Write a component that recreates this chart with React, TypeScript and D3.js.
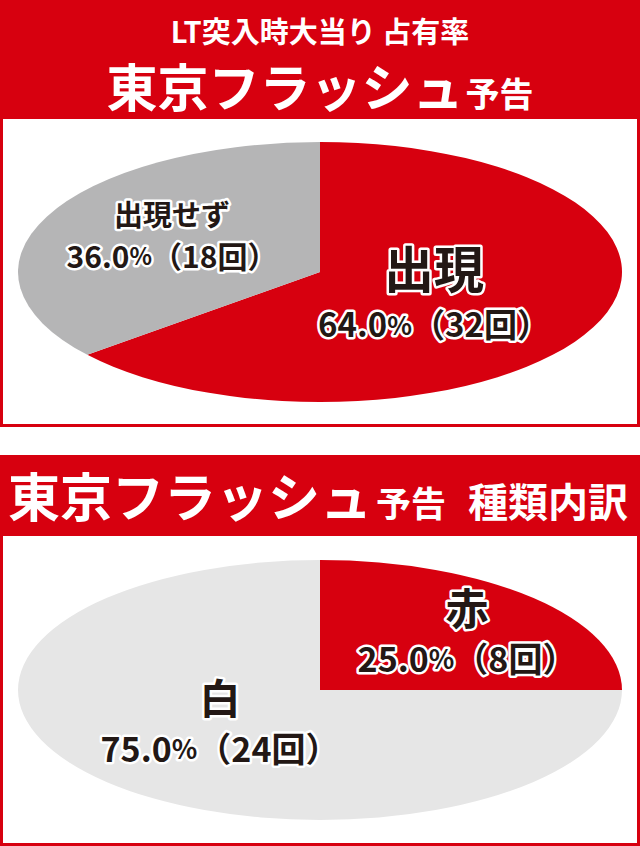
import React from 'react';
import * as d3 from 'd3';

// chart 1: LT突入時大当り占有率
const occCategories = ['出現', '出現せず'];
const occPercents = [64.0, 36.0];
const occCounts = [32, 18];

// chart 2: 種類内訳
const typeCategories = ['赤', '白'];
const typePercents = [25.0, 75.0];
const typeCounts = [8, 24];

const W = 640;
const H = 846;
const RED = '#d7000f';
const INK = '#231815';
const FONT = '"Noto Sans CJK JP", "Noto Sans", sans-serif';

interface LabelSpec {
  x: number;
  y1: number;
  y2: number;
  f1: number;
  f2: number;
}

interface PieProps {
  cx: number;
  cy: number;
  rx: number;
  ry: number;
  categories: string[];
  percents: number[];
  counts: number[];
  colors: string[];
  labels: LabelSpec[];
}

const Label: React.FC<{ spec: LabelSpec; name: string; pct: number; count: number }> = ({ spec, name, pct, count }) => {
  const common = {
    fontFamily: FONT,
    fontWeight: 700,
    fill: INK,
    stroke: '#fff',
    strokeWidth: 5,
    strokeLinejoin: 'round' as const,
    paintOrder: 'stroke',
    textAnchor: 'middle' as const,
    dominantBaseline: 'central' as const,
  };
  return (
    <g>
      <text x={spec.x} y={spec.y1} fontSize={spec.f1} {...common}>{name}</text>
      <text x={spec.x} y={spec.y2} fontSize={spec.f2} {...common}>
        {d3.format('.1f')(pct)}
        <tspan fontSize={spec.f2 * 0.78}>%</tspan>
        {`（${count}回）`}
      </text>
    </g>
  );
};

const EllipsePie: React.FC<PieProps> = ({ cx, cy, rx, ry, categories, percents, counts, colors, labels }) => {
  const pie = d3.pie<number>().sort(null).value(d => d);
  const arcs = pie(percents);
  const R = 100;
  const arc = d3.arc<d3.PieArcDatum<number>>().innerRadius(0).outerRadius(R);
  const color = d3.scaleOrdinal<string, string>().domain(categories).range(colors);
  return (
    <g>
      <g transform={`translate(${cx},${cy}) scale(${rx / R},${ry / R})`}>
        {arcs.map((a, i) => (
          <path key={i} d={arc(a) || ''} fill={color(categories[i])} />
        ))}
      </g>
      {arcs.map((a, i) => (
        <Label key={i} spec={labels[i]} name={categories[i]} pct={percents[i]} count={counts[i]} />
      ))}
    </g>
  );
};

export default function App() {
  const headText = {
    fontFamily: FONT,
    fontWeight: 700,
    fill: '#fff',
  };
  return (
    <svg width={W} height={H} viewBox={`0 0 ${W} ${H}`} style={{ position: 'absolute', left: 0, top: 0, background: '#fff' }}>
      {/* panel 1 */}
      <rect x={0} y={0} width={W} height={427} fill={RED} />
      <rect x={3} y={119} width={W - 6} height={305} fill="#fff" />
      <text x={W / 2} y={43} fontSize={29} textAnchor="middle" {...headText}>LT突入時大当り 占有率</text>
      <text x={W / 2} y={107} textAnchor="middle" {...headText}>
        <tspan fontSize={51}>東京フラッシュ</tspan>
        <tspan fontSize={34} dx={2}>予告</tspan>
      </text>
      <EllipsePie
        cx={320}
        cy={272}
        rx={302}
        ry={130}
        categories={occCategories}
        percents={occPercents}
        counts={occCounts}
        colors={[RED, '#b5b5b6']}
        labels={[
          { x: 434, y1: 266, y2: 323, f1: 50, f2: 33 },
          { x: 172, y1: 213, y2: 255, f1: 29, f2: 30 },
        ]}
      />

      {/* panel 2 */}
      <rect x={0} y={455} width={W} height={H - 455} fill={RED} />
      <rect x={3} y={536} width={W - 6} height={307} fill="#fff" />
      <text x={8} y={517} {...headText}>
        <tspan fontSize={52}>東京フラッシュ</tspan>
        <tspan fontSize={35} dx={4}>予告</tspan>
        <tspan fontSize={40} dx={22}>種類内訳</tspan>
      </text>
      <EllipsePie
        cx={320}
        cy={690}
        rx={302}
        ry={130}
        categories={typeCategories}
        percents={typePercents}
        counts={typeCounts}
        colors={[RED, '#e6e6e6']}
        labels={[
          { x: 467, y1: 606, y2: 657, f1: 43, f2: 34 },
          { x: 220, y1: 696, y2: 747, f1: 41, f2: 34 },
        ]}
      />
    </svg>
  );
}
